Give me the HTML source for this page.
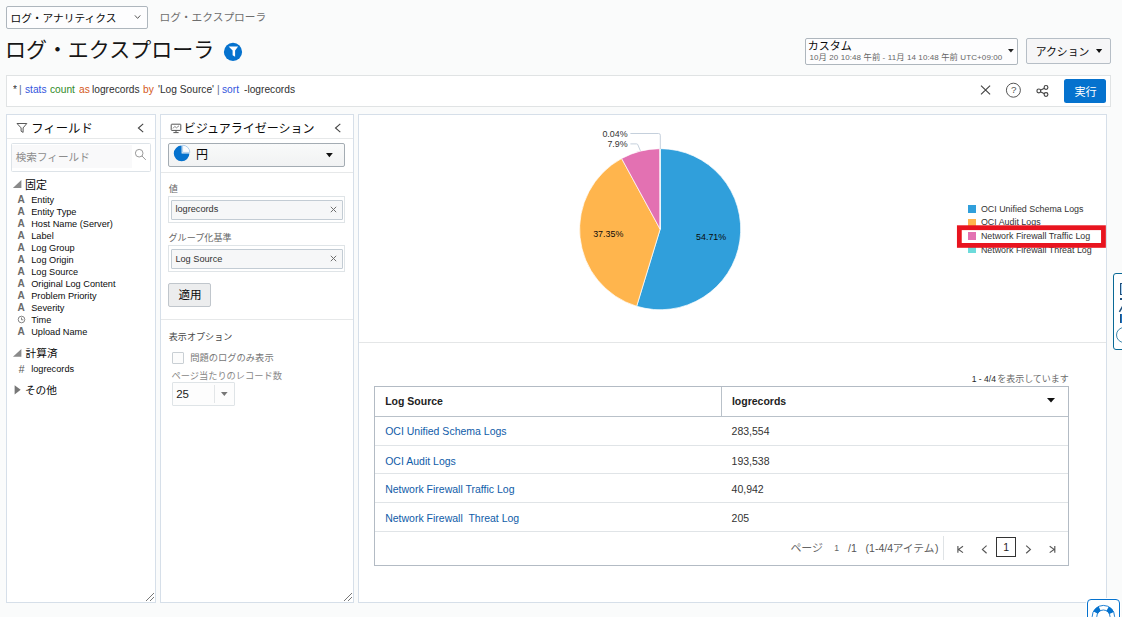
<!DOCTYPE html>
<html lang="ja"><head><meta charset="utf-8"><title>ログ・エクスプローラ</title>
<style>
*{box-sizing:border-box;margin:0;padding:0}
html,body{width:1122px;height:617px;overflow:hidden}
body{position:relative;background:#fafbfb;font-family:"Liberation Sans","Noto Sans CJK JP",sans-serif;color:#222;font-size:10.5px;line-height:1}
.a{position:absolute}
.t{position:absolute;white-space:nowrap;line-height:1}
svg.jp{position:absolute;display:block;overflow:visible}
svg.jp text{font-family:"Liberation Sans","Noto Sans CJK JP",sans-serif}
.jpi{font-size:8.3px}
svg.ic{position:absolute;display:block;overflow:visible}
.panel{position:absolute;background:#fff;border:1px solid #d6dfe9}
.hline{position:absolute;height:1px;background:#e6e8e9}
.box{position:absolute;border:1px solid #aeb6bd;border-radius:2px;background:#fdfdfe}
.q{top:83.6px;font-size:11.5px;transform:scaleX(.887);transform-origin:0 50%}
.fn{font-size:9.2px;color:#0c0c0c}
.fa{font-size:10.1px;font-weight:bold;color:#6a6a6a}
.pl{font-size:8.9px;color:#333}
.lg{font-size:8.9px;color:#333}
.th{font-size:10.5px;font-weight:bold;color:#222}
.td{font-size:10.5px}

</style></head>
<body>
<!-- sec_header -->
<div class="box" style="left:6px;top:6px;width:142px;height:23px"></div>
<svg class="jp" style="left:12.30px;top:11.80px;" width="104.50" height="11.40"><text x="-1.6" y="9.77" font-size="10.72" fill="#0a0a0a">ログ・アナリティクス</text></svg>
<svg class="ic" style="left:134px;top:14px" width="8" height="6" viewBox="0 0 8 6"><path d="M0.9 1.4 L3.6 4.4 L6.3 1.4" fill="none" stroke="#444" stroke-width="0.9"/></svg>
<svg class="jp" style="left:160.90px;top:10.70px;" width="104.30" height="11.30"><text x="-1.6" y="9.79" font-size="10.73" fill="#6e6e6e">ログ・エクスプローラ</text></svg>
<svg class="jp" style="left:6.90px;top:36.90px" width="208.00" height="22.30" viewBox="6.90 36.90 208.00 22.30"><text x="4.8" y="56.9" font-size="21" fill="#161616">ログ・エクスプローラ</text></svg>
<svg class="ic" style="left:223px;top:42px" width="20" height="20" viewBox="223 42 20 20"><circle cx="233" cy="51.9" r="9.1" fill="#0572ce"/><path d="M228.6 46.4 H238.1 L235.1 50.6 V56.7 L232.6 55.2 V50.6 Z" fill="#fff"/></svg>
<div class="box" style="left:805px;top:38px;width:213px;height:27px"></div>
<svg class="jp" style="left:809.10px;top:40.90px;" width="42.00" height="10.20"><text x="-1.25" y="9.33" font-size="11" fill="#0a0a0a">カスタム</text></svg>
<div class="t" style="left:809.4px;top:52.9px;font-size:8.0px;letter-spacing:0.1px;color:#666">10<span class="jpi">月</span> 20 10:48 <span class="jpi">午前</span> - 11<span class="jpi">月</span> 14 10:48 <span class="jpi">午前</span> UTC+09:00</div>
<svg class="ic" style="left:1008.1px;top:49.1px" width="5.8" height="3.5" viewBox="0 0 5.8 3.5"><path d="M0 0H5.8L2.9 3.5Z" fill="#222"/></svg>
<div class="box" style="left:1026px;top:38px;width:85px;height:26px;background:#f6f6f7;border-color:#b6bec6"></div>
<svg class="jp" style="left:1036.70px;top:46.50px;" width="52.10" height="9.60"><text x="-1.37" y="8.88" font-size="10.87" fill="#0a0a0a">アクション</text></svg>
<svg class="ic" style="left:1096px;top:49.2px" width="6.2" height="3.9" viewBox="0 0 6.2 3.9"><path d="M0 0H6.2L3.1 3.9Z" fill="#111"/></svg>
<div class="a" style="left:6px;top:75px;width:1105px;height:32px;background:#fff;border:1px solid #e0e3e4"></div>
<span class="t q" style="left:13.0px;color:#333">*</span>
<span class="t q" style="left:18.6px;color:#5a6a8a">|</span>
<span class="t q" style="left:24.9px;color:#3355dd">stats</span>
<span class="t q" style="left:49.6px;color:#2f8a1f">count</span>
<span class="t q" style="left:79.0px;color:#d4581a">as</span>
<span class="t q" style="left:91.6px;color:#303030">logrecords</span>
<span class="t q" style="left:143.3px;color:#d4581a">by</span>
<span class="t q" style="left:157.9px;color:#303030">'Log Source'</span>
<span class="t q" style="left:217.2px;color:#5a6a8a">|</span>
<span class="t q" style="left:222.4px;color:#3355dd">sort</span>
<span class="t q" style="left:243.6px;color:#303030">-logrecords</span>
<svg class="ic" style="left:978px;top:82px" width="74" height="18" viewBox="978 82 74 18" fill="none" stroke="#444" stroke-width="1.15"><path d="M981 85.7 L990.1 94.3 M990.1 85.7 L981 94.3"/><circle cx="1013.4" cy="90.2" r="7" stroke="#555" stroke-width="1"/><path d="M1038.8 90.9 L1046 87.4 M1038.8 90.9 L1046 94.5"/><circle cx="1038.8" cy="90.9" r="1.9" fill="#fff"/><circle cx="1046" cy="87.4" r="1.9" fill="#fff"/><circle cx="1046" cy="94.5" r="1.9" fill="#fff"/></svg>
<span class="t" style="left:1010.9px;top:85.4px;font-size:9.9px;color:#555">?</span>
<div class="a" style="left:1064px;top:79px;width:42px;height:24px;background:#0572ce;border-radius:2.5px"></div>
<svg class="jp" style="left:1074.60px;top:85.70px;" width="21.20" height="10.60"><text x="-0.58" y="9.52" font-size="11.14" fill="#fff">実行</text></svg>
<!-- sec_fields -->
<div class="panel" style="left:6px;top:114px;width:150px;height:489px"></div>
<div class="hline" style="left:7px;top:138px;width:148px"></div>
<svg class="ic" style="left:16px;top:123px" width="12" height="10" viewBox="16 123 12 10" fill="none" stroke="#505050" stroke-width="0.95"><path d="M17.0 123.5 H26.8 L23.1 127.9 V132.4 L21.1 131.2 V127.9 Z"/></svg>
<svg class="jp" style="left:32.60px;top:122.60px;" width="58.40" height="10.80"><text x="-1.83" y="9.67" font-size="12.38" fill="#0a0a0a">フィールド</text></svg>
<svg class="ic" style="left:137px;top:123px" width="8" height="10" viewBox="137 123 8 10" fill="none" stroke="#444" stroke-width="1.1"><path d="M143.2 123.8 L138.4 128 L143.2 132.2"/></svg>
<div class="a" style="left:11px;top:143px;width:140px;height:29px;border:1px solid #dde3e8;border-radius:1.5px;background:#fff"></div>
<div class="a" style="left:12px;top:145px;width:120px;height:23px;background:#f9f9fa"></div>
<svg class="jp" style="left:15.90px;top:151.80px;" width="72.60" height="10.20"><text x="-0.32" y="9.11" font-size="10.61" fill="#8c8c8c">検索フィールド</text></svg>
<svg class="ic" style="left:134px;top:149px" width="14" height="13" viewBox="134 149 14 13" fill="none" stroke="#9a9a9a" stroke-width="1"><circle cx="139.2" cy="153.2" r="3.8"/><path d="M141.9 155.9 L145.8 159.9"/></svg>
<svg class="ic" style="left:12px;top:179px" width="10" height="10" viewBox="12 179 10 10"><path d="M21.4 180 V187.9 H12.9 Z" fill="#8a8a8a"/></svg>
<svg class="jp" style="left:25.80px;top:179.60px;" width="20.50" height="8.90"><text x="-1.0" y="8.6" font-size="10.99" fill="#0a0a0a">固定</text></svg>
<span class="t fa" style="left:17.6px;top:194.80px">A</span>
<span class="t fn" style="left:31.2px;top:196.30px">Entity</span>
<span class="t fa" style="left:17.6px;top:206.80px">A</span>
<span class="t fn" style="left:31.2px;top:208.30px">Entity Type</span>
<span class="t fa" style="left:17.6px;top:218.80px">A</span>
<span class="t fn" style="left:31.2px;top:220.30px">Host Name (Server)</span>
<span class="t fa" style="left:17.6px;top:230.80px">A</span>
<span class="t fn" style="left:31.2px;top:232.30px">Label</span>
<span class="t fa" style="left:17.6px;top:242.80px">A</span>
<span class="t fn" style="left:31.2px;top:244.30px">Log Group</span>
<span class="t fa" style="left:17.6px;top:254.80px">A</span>
<span class="t fn" style="left:31.2px;top:256.30px">Log Origin</span>
<span class="t fa" style="left:17.6px;top:266.80px">A</span>
<span class="t fn" style="left:31.2px;top:268.30px">Log Source</span>
<span class="t fa" style="left:17.6px;top:278.80px">A</span>
<span class="t fn" style="left:31.2px;top:280.30px">Original Log Content</span>
<span class="t fa" style="left:17.6px;top:290.80px">A</span>
<span class="t fn" style="left:31.2px;top:292.30px">Problem Priority</span>
<span class="t fa" style="left:17.6px;top:302.80px">A</span>
<span class="t fn" style="left:31.2px;top:304.30px">Severity</span>
<svg class="ic" style="left:17px;top:315.40px" width="9" height="9" viewBox="-4.5 -4.5 9 9" fill="none" stroke="#777" stroke-width="0.9"><circle cx="0" cy="0" r="3.3"/><path d="M0 -2 V0.3 H1.8"/></svg>
<span class="t fn" style="left:31.2px;top:316.30px">Time</span>
<span class="t fa" style="left:17.6px;top:326.80px">A</span>
<span class="t fn" style="left:31.2px;top:328.30px">Upload Name</span>
<svg class="ic" style="left:12px;top:348px" width="10" height="10" viewBox="12 348 10 10"><path d="M21.4 348.9 V356.8 H12.9 Z" fill="#8a8a8a"/></svg>
<svg class="jp" style="left:25.60px;top:348.10px;" width="31.20" height="9.70"><text x="-0.43" y="8.87" font-size="10.66" fill="#0a0a0a">計算済</text></svg>
<span class="t" style="left:18.4px;top:363.6px;font-size:10.6px;font-style:italic;color:#555">#</span>
<span class="t fn" style="left:31.2px;top:364.6px">logrecords</span>
<svg class="ic" style="left:14px;top:385px" width="8" height="10" viewBox="14 385 8 10"><path d="M14.6 385.2 L20.7 389.8 L14.6 394.4 Z" fill="#777"/></svg>
<svg class="jp" style="left:25.90px;top:385.00px;" width="30.60" height="10.00"><text x="-1.11" y="9.08" font-size="10.71" fill="#0a0a0a">その他</text></svg>
<svg class="ic" style="left:145px;top:592px" width="10" height="10" viewBox="0 0 10 10" stroke="#777" stroke-width="1" fill="none"><path d="M1 9 L9 1 M5 9 L9 5"/></svg>
<!-- sec_vis -->
<div class="panel" style="left:160px;top:114px;width:194px;height:489px"></div>
<div class="hline" style="left:161px;top:138px;width:192px"></div>
<svg class="ic" style="left:170px;top:123px" width="12" height="11" viewBox="170 123 12 11" fill="none" stroke="#555" stroke-width="1"><rect x="171.2" y="124.2" width="9.6" height="6.2" rx="0.6"/><path d="M176 130.4 V132.4 M173.4 132.6 H178.6"/><path d="M173 128.4 L174.8 126.4 L176.4 127.8 L179 125.8" stroke-width="0.7"/></svg>
<svg class="jp" style="left:186.40px;top:122.60px;" width="129.00" height="11.10"><text x="-2.3" y="10.23" font-size="12.02" fill="#0a0a0a">ビジュアライゼーション</text></svg>
<svg class="ic" style="left:334px;top:123px" width="8" height="10" viewBox="334 123 8 10" fill="none" stroke="#444" stroke-width="1.1"><path d="M340.3 123.8 L335.5 128 L340.3 132.2"/></svg>
<div class="box" style="left:168px;top:143px;width:177px;height:24px;border-color:#a4acb3;background:linear-gradient(#f9fafa,#f1f2f3)"></div>
<svg class="ic" style="left:173px;top:145px" width="18" height="18" viewBox="173 145 18 18"><path d="M181.6 145.6 A7.8 7.8 0 1 0 189.4 153.4 H181.6 Z" fill="#0572ce"/><path d="M182.6 145.2 A7.2 7.2 0 0 1 189.8 152.4 H182.6 Z" fill="#fbfcfd" stroke="#9fc3e6" stroke-width="0.8"/></svg>
<svg class="jp" style="left:196.70px;top:150.00px;" width="9.90" height="10.20"><text x="-1.11" y="9.26" font-size="12.04" fill="#0a0a0a">円</text></svg>
<svg class="ic" style="left:326px;top:152.9px" width="6.8" height="4.2" viewBox="0 0 6.8 4.2"><path d="M0 0H6.8L3.4 4.2Z" fill="#111"/></svg>
<div class="hline" style="left:161px;top:172px;width:192px;background:#e6e8e9"></div>
<svg class="jp" style="left:169.00px;top:184.00px;" width="8.60" height="8.80"><text x="-0.15" y="7.87" font-size="9.11" fill="#666">値</text></svg>
<div class="a" style="left:168px;top:196px;width:177px;height:27px;border:1px solid #dfe4e7;background:#fff"></div>
<div class="a" style="left:171px;top:200px;width:172px;height:20px;border:1px solid #c3ccd4;background:#f6f7f8;border-radius:1px"></div>
<span class="t fn" style="left:175.4px;top:204.70px;color:#333">logrecords</span>
<svg class="ic" style="left:330.2px;top:205.80px" width="7" height="7" viewBox="0 0 7 7" fill="none" stroke="#6f6f6f" stroke-width="1"><path d="M0.8 0.8 L6.2 6.2 M6.2 0.8 L0.8 6.2"/></svg>
<svg class="jp" style="left:169.00px;top:233.40px;" width="62.70" height="8.40"><text x="-0.53" y="7.68" font-size="9.1" fill="#666">グループ化基準</text></svg>
<div class="a" style="left:168px;top:245px;width:177px;height:27px;border:1px solid #dfe4e7;background:#fff"></div>
<div class="a" style="left:171px;top:249px;width:172px;height:20px;border:1px solid #c3ccd4;background:#f6f7f8;border-radius:1px"></div>
<span class="t fn" style="left:175.4px;top:254.70px;color:#333">Log Source</span>
<svg class="ic" style="left:330.2px;top:254.80px" width="7" height="7" viewBox="0 0 7 7" fill="none" stroke="#6f6f6f" stroke-width="1"><path d="M0.8 0.8 L6.2 6.2 M6.2 0.8 L0.8 6.2"/></svg>
<div class="box" style="left:168px;top:283px;width:43px;height:24px;background:#ecedee;border-color:#c0c6cc"></div>
<svg class="jp" style="left:179.00px;top:289.40px;" width="21.30" height="11.10"><text x="-0.43" y="9.91" font-size="11.53" fill="#0a0a0a">適用</text></svg>
<div class="hline" style="left:161px;top:319px;width:192px;background:#e6e8e9"></div>
<svg class="jp" style="left:169.00px;top:331.60px;" width="62.70" height="8.40"><text x="-0.25" y="7.65" font-size="9.09" fill="#4a4a4a">表示オプション</text></svg>
<div class="a" style="left:172px;top:352px;width:12px;height:12px;border:1px solid #c9cfd4;background:#fcfcfc;border-radius:1px"></div>
<svg class="jp" style="left:190.50px;top:352.90px;" width="82.20" height="8.40"><text x="-0.87" y="7.72" font-size="9.29" fill="#777">問題のログのみ表示</text></svg>
<svg class="jp" style="left:172.30px;top:370.50px;" width="109.90" height="8.40"><text x="-0.52" y="7.7" font-size="9.23" fill="#888">ページ当たりのレコード数</text></svg>
<div class="a" style="left:172px;top:382px;width:63px;height:24px;border:1px solid #dfe4e7;background:#fdfdfd;border-radius:1px"></div>
<div class="a" style="left:214px;top:385px;width:1px;height:18px;background:#e3e6e8"></div>
<span class="t" style="left:176.2px;top:388.5px;font-size:11.5px;color:#222">25</span>
<svg class="ic" style="left:220.6px;top:392.3px" width="6.6" height="4" viewBox="0 0 6.6 4"><path d="M0 0H6.6L3.3 4Z" fill="#777"/></svg>
<svg class="ic" style="left:343px;top:592px" width="10" height="10" viewBox="0 0 10 10" stroke="#777" stroke-width="1" fill="none"><path d="M1 9 L9 1 M5 9 L9 5"/></svg>
<!-- sec_main -->
<div class="panel" style="left:358px;top:114px;width:749px;height:489px"></div>
<div class="hline" style="left:359px;top:342px;width:747px;background:#e4e6e7"></div>
<svg class="ic" style="left:570px;top:125px" width="180" height="190" viewBox="570 125 180 190"><path d="M660.15 229.2 L660.15 148.65 A80.55 80.55 0 1 1 636.66 306.25 Z" fill="#309fdb" stroke="#fff" stroke-width="0.7" stroke-linejoin="round"/><path d="M660.15 229.2 L636.66 306.25 A80.55 80.55 0 0 1 621.61 158.47 Z" fill="#ffb54d" stroke="#fff" stroke-width="0.7" stroke-linejoin="round"/><path d="M660.15 229.2 L621.61 158.47 A80.55 80.55 0 0 1 659.95 148.65 Z" fill="#e371b2" stroke="#fff" stroke-width="0.7" stroke-linejoin="round"/><path d="M660.15 229.2 L659.95 148.65 A80.55 80.55 0 0 1 660.15 148.65 Z" fill="#6ddbdb" stroke="#fff" stroke-width="0.7" stroke-linejoin="round"/><path d="M630.4 133.5 H658.6 Q660.3 133.5 660.3 135.2 V149" fill="none" stroke="#c5d0dc" stroke-width="1"/><path d="M630.4 143.9 H636.6 Q637.6 143.9 637.9 144.9 L640.4 150.8" fill="none" stroke="#c5d0dc" stroke-width="1"/></svg>
<span class="t pl" style="left:602.4px;top:130.0px">0.04%</span>
<span class="t pl" style="left:607.4px;top:140.0px">7.9%</span>
<span class="t pl" style="left:593.2px;top:230.2px;color:#0a0a0a">37.35%</span>
<span class="t pl" style="left:696.1px;top:233.2px;color:#0a0a0a">54.71%</span>
<div class="a" style="left:968.2px;top:205.30px;width:7.7px;height:7.6px;background:#309fdb"></div>
<span class="t lg" style="left:980.9px;top:204.90px">OCI Unified Schema Logs</span>
<div class="a" style="left:968.2px;top:218.67px;width:7.7px;height:7.6px;background:#ffb54d"></div>
<span class="t lg" style="left:980.9px;top:218.27px">OCI Audit Logs</span>
<div class="a" style="left:968.2px;top:232.04px;width:7.7px;height:7.6px;background:#e371b2"></div>
<span class="t lg" style="left:980.9px;top:231.64px">Network Firewall Traffic Log</span>
<div class="a" style="left:968.2px;top:245.41px;width:7.7px;height:7.6px;background:#6ddbdb"></div>
<span class="t lg" style="left:980.9px;top:245.81px">Network Firewall Threat Log</span>
<svg class="ic" style="left:950px;top:220px" width="160" height="32" viewBox="950 220 160 32"><rect x="959.35" y="227.7" width="144.1" height="17.7" fill="none" stroke="#e8141f" stroke-width="4.8"/></svg>
<div class="a" style="left:1113px;top:273px;width:20px;height:77px;border:1.3px solid #0a6996;border-radius:3px;background:#fff"></div>
<div class="a" style="left:1119.5px;top:283.1px;width:8px;height:12.4px;border:1.4px solid #1f4f7c;background:#a9d2f3"></div>
<div class="a" style="left:1119.5px;top:298.2px;width:4px;height:1.5px;background:#1f4f7c"></div>
<svg class="ic" style="left:1118px;top:305px" width="6" height="8" viewBox="1118 305 6 8"><path d="M1119.4 311.9 L1122.6 306.4" stroke="#1f4f7c" stroke-width="1.5" fill="none"/></svg>
<div class="a" style="left:1119.5px;top:313.7px;width:4px;height:9.2px;background:#1a73c7;border-left:1.2px solid #1f4f7c"></div>
<div class="a" style="left:1116px;top:326.8px;width:16.4px;height:16.4px;border:1.2px solid #3f88ad;border-radius:9px"></div>
<div class="t" style="left:971.7px;top:374.6px;font-size:8.55px;color:#262626">1 - 4/4</div>
<svg class="jp" style="left:998.00px;top:375.00px;" width="70.50" height="7.70"><text x="-0.89" y="7.27" font-size="9" fill="#6c6c6c">を表示しています</text></svg>
<div class="a" style="left:374px;top:386px;width:695px;height:180px;border:1px solid #b3bbc4;background:#fff"></div>
<div class="a" style="left:375px;top:416px;width:693px;height:1px;background:#b9c1c9"></div>
<div class="a" style="left:721px;top:387px;width:1px;height:29px;background:#b9c1c9"></div>
<div class="a" style="left:375px;top:445px;width:693px;height:1px;background:#e0e4e7"></div>
<div class="a" style="left:375px;top:473px;width:693px;height:1px;background:#e0e4e7"></div>
<div class="a" style="left:375px;top:502px;width:693px;height:1px;background:#e0e4e7"></div>
<div class="a" style="left:375px;top:531px;width:693px;height:1px;background:#e0e4e7"></div>
<span class="t th" style="left:385.2px;top:396.0px">Log Source</span>
<span class="t th" style="left:731.9px;top:396.0px">logrecords</span>
<svg class="ic" style="left:1047.4px;top:398px" width="8" height="4.6" viewBox="0 0 8 4.6"><path d="M0 0H8L4 4.6Z" fill="#111"/></svg>
<span class="t td" style="left:385.2px;top:426.00px;color:#0f5ca8">OCI Unified Schema Logs</span>
<span class="t td" style="left:731.6px;top:426.00px;color:#333">283,554</span>
<span class="t td" style="left:385.2px;top:456.20px;color:#0f5ca8">OCI Audit Logs</span>
<span class="t td" style="left:731.6px;top:456.20px;color:#333">193,538</span>
<span class="t td" style="left:385.2px;top:484.10px;color:#0f5ca8">Network Firewall Traffic Log</span>
<span class="t td" style="left:731.6px;top:484.10px;color:#333">40,942</span>
<span class="t td" style="left:385.2px;top:512.50px;color:#0f5ca8">Network Firewall&nbsp; Threat Log</span>
<span class="t td" style="left:731.6px;top:512.50px;color:#333">205</span>
<svg class="jp" style="left:791.20px;top:544.20px;" width="31.60" height="8.60"><text x="-0.61" y="8.45" font-size="10.96" fill="#666">ページ</text></svg>
<span class="t" style="left:834.2px;top:544.0px;font-size:8.6px;color:#666">1</span>
<span class="t" style="left:848.0px;top:543.3px;font-size:10.5px;color:#555">/1</span>
<span class="t" style="left:865.6px;top:543.3px;font-size:10.5px;color:#555">(1-4/4</span>
<svg class="jp" style="left:893.60px;top:544.00px;" width="40.80" height="9.00"><text x="-1.35" y="8.44" font-size="10.73" fill="#666">アイテム</text></svg>
<span class="t" style="left:935.0px;top:543.3px;font-size:10.5px;color:#555">)</span>
<div class="a" style="left:943px;top:536px;width:1px;height:24px;background:#dfe3e6"></div>
<svg class="ic" style="left:950px;top:540px" width="112" height="18" viewBox="950 540 112 18" fill="none" stroke="#555" stroke-width="1.15"><path d="M957.9 546 V552.8 M963 546.2 L958.6 549.4 L963 552.6"/><path d="M986.6 545.6 L982.4 549.4 L986.6 553.2"/><path d="M1026.2 545.6 L1030.4 549.4 L1026.2 553.2"/><path d="M1054.8 546 V552.8 M1049.7 546.2 L1054.1 549.4 L1049.7 552.6"/></svg>
<div class="a" style="left:996px;top:537px;width:20px;height:20px;border:1px solid #333;background:#fff"></div>
<span class="t" style="left:1003.2px;top:542.3px;font-size:10.5px;color:#222">1</span>
<div class="a" style="left:1086.4px;top:598.4px;width:34.4px;height:30px;background:#fff;border-radius:4.5px"></div>
<div class="a" style="left:1087.1px;top:599.1px;width:33px;height:30px;background:#fff;border:1.3px solid #0572ce;border-radius:4px"></div>
<svg class="ic" style="left:1090px;top:603px" width="27" height="14" viewBox="1090 603 27 14"><circle cx="1103.4" cy="616.6" r="8.95" fill="none" stroke="#0572ce" stroke-width="5.1" stroke-dasharray="5.8 8.26" stroke-dashoffset="9.93"/><circle cx="1103.4" cy="616.6" r="11.2" fill="none" stroke="#0572ce" stroke-width="0.9"/><circle cx="1103.4" cy="616.6" r="6.6" fill="none" stroke="#0572ce" stroke-width="0.9"/></svg>
</body></html>
